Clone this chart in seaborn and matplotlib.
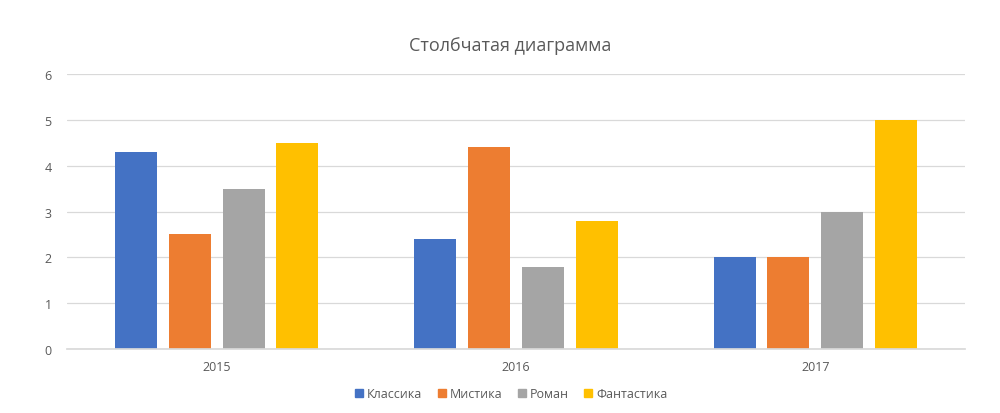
import matplotlib
matplotlib.use("Agg")
import matplotlib.pyplot as plt
import seaborn as sns
import pandas as pd
from matplotlib.lines import Line2D

years = ["2015", "2016", "2017"]
series = ["Классика", "Мистика", "Роман", "Фантастика"]
klassika = [4.3, 2.4, 2.0]
mistika = [2.5, 4.4, 2.0]
roman = [3.5, 1.8, 3.0]
fantastika = [4.5, 2.8, 5.0]
colors = ["#4472C4", "#ED7D31", "#A5A5A5", "#FFC000"]
yticks = [0, 1, 2, 3, 4, 5, 6]

rows = []
for s, vals in zip(series, [klassika, mistika, roman, fantastika]):
    for y, v in zip(years, vals):
        rows.append({"year": y, "series": s, "value": v})
df = pd.DataFrame(rows)

sns.set_theme(style="white")
plt.rcParams["font.family"] = ["Open Sans", "DejaVu Sans"]
txt = "#595959"

fig = plt.figure(figsize=(10, 4.14), dpi=100)
ax = fig.add_axes([0.067, 0.1546, 0.898, 0.6642])
sns.barplot(data=df, x="year", y="value", hue="series", order=years,
            hue_order=series, palette=colors, width=0.72, gap=0.22,
            saturation=1, linewidth=0, edgecolor="none", ax=ax, legend=False)
ax.set_ylim(0, 6)
ax.set_xlim(-0.5, 2.5)
ax.set_yticks(yticks)
ax.yaxis.grid(True, color="#D9D9D9", linewidth=0.9)
ax.set_axisbelow(True)
for sp in ["top", "right", "left"]:
    ax.spines[sp].set_visible(False)
ax.spines["bottom"].set_color("#D9D9D9")
ax.set_xlabel("")
ax.set_ylabel("")
ax.tick_params(axis="both", length=0, labelsize=9, colors=txt, pad=8)
ax.tick_params(axis="y", pad=11)
fig.text(0.51, 0.888, "Столбчатая диаграмма", ha="center", va="center",
         fontsize=13, color=txt)
handles = [Line2D([], [], marker="s", linestyle="none", markersize=6,
                  markerfacecolor=c, markeredgecolor=c) for c in colors]
fig.legend(handles, series, loc="center", bbox_to_anchor=(0.51, 0.046),
           ncol=4, frameon=False, fontsize=9, labelcolor=txt,
           handletextpad=0.1, columnspacing=1.1, handlelength=1.0)
fig.savefig("out.png", dpi=100)
